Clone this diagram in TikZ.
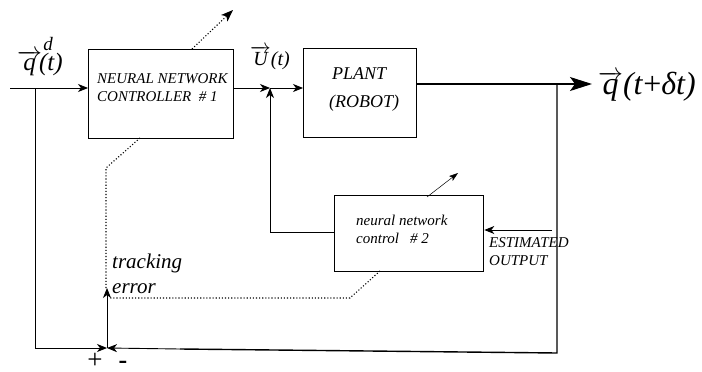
\documentclass[tikz,border=0pt]{standalone}
\usepackage{fontspec}
\setmainfont{Liberation Serif}
\usetikzlibrary{arrows.meta}
\tikzset{
  blk/.style={draw, line width=1.3pt, anchor=north west, inner sep=0pt},
  txt/.style={font=\itshape\fontsize{15}{18}\selectfont, align=left, inner sep=0pt},
  wire/.style={line width=0.9pt},
  arr/.style={wire, -{Stealth[length=10pt,width=8pt,inset=3pt]}},
  bigarr/.style={line width=1.3pt, -{Stealth[length=22pt,width=14pt,inset=5pt]}},
  dots/.style={line width=1.1pt, dotted},
}
\begin{document}
\begin{tikzpicture}[x=1pt,y=-1pt]
\useasboundingbox (0,0) rectangle (702,372);
% boxes
\node[blk, minimum width=145pt, minimum height=89pt] (b1) at (88,49) {};
\node[blk, minimum width=113pt, minimum height=89pt] (plant) at (303,48) {};
\node[blk, minimum width=149pt, minimum height=76pt] (b2) at (334,195) {};
% box texts
\node[txt, anchor=west] (b1t) at (97,88) {NEURAL NETWORK\\CONTROLLER \ \# \textit{1}};
\node[txt, font=\itshape\fontsize{18}{28}\selectfont, anchor=west] (pt) at (329,89) {\hspace{3pt}PLANT\\(ROBOT)};
\node[txt, anchor=west] (b2t) at (356,229) {neural network\\control \ \ \# 2};
% coordinates
\coordinate (in) at (10,88);
\coordinate (br) at (35,88);
\coordinate (j1) at (270,88);
\coordinate (po) at (416,84);
\coordinate (out) at (592,84);
\coordinate (fb) at (557,84);
\coordinate (fbc) at (557,353);
\coordinate (fbm) at (180,349);
\coordinate (sum) at (107,348);
\coordinate (bl) at (35,348);
\coordinate (te) at (107,288);
\coordinate (es) at (552,230);
\coordinate (j2) at (270,232);
% main path
\draw[arr] (in) -- (b1.west |- in);
\draw[wire] (br) -- (bl);
\draw[arr] (bl) -- (sum);
\draw[arr] (b1.east |- j1) -- (j1);
\draw[arr] (j1) -- (plant.west |- j1);
\draw[bigarr] (po) -- (out);
\draw[line width=1.4pt] (fb) -- (fbc) -- (fbm);
\draw[arr] (fbm) -- (sum);
\draw[arr] (sum) -- (te);
% second controller
\draw[arr] (es) -- (es -| b2.east);
\draw[wire] (b2.west |- j2) -- (j2);
\draw[arr] (j2) -- (j1);
% adaptation arrows
\coordinate (a1s) at (192,49);
\coordinate (a1e) at (233,10);
\draw[dots, -{Stealth[length=12pt,width=9pt,inset=3pt]}] (a1s) -- (a1e);
\coordinate (a2s) at (427,197);
\coordinate (a2e) at (458,173);
\draw[line width=0.5pt, -{Stealth[length=9pt,width=6pt,inset=2pt]}] (a2s) -- (a2e);
% tracking error dotted
\coordinate (d1) at (140,138);
\coordinate (d2) at (106,168);
\coordinate (d3) at (106,290);
\draw[dots] (d1) -- (d2) -- (d3);
\coordinate (d4) at (380,271);
\coordinate (d5) at (350,298);
\coordinate (d6) at (110,298);
\draw[dots] (d4) -- (d5) -- (d6);
% labels
\node[font=\itshape\fontsize{25}{25}\selectfont, inner sep=0pt, anchor=west] (qd) at (17,63) {$\overrightarrow{\mbox{\itshape q}}$\hspace{-3pt}(t)};
\node[font=\itshape\fontsize{19}{19}\selectfont, inner sep=0pt] (qdd) at (48,44) {d};
\node[font=\itshape\fontsize{20}{20}\selectfont, inner sep=0pt, anchor=west] (ut) at (250,58) {$\overrightarrow{\mbox{\itshape U}}$(t)};
\node[font=\fontsize{32}{32}\selectfont, inner sep=0pt, anchor=west] (qo) at (598,86) {$\overrightarrow{\mbox{\itshape q}}$\textit{(t}+\textit{δt)}};
\node[font=\itshape\fontsize{21}{25}\selectfont, inner sep=0pt, align=left, anchor=west] (tr) at (112,274) {tracking\\error};
\node[txt, anchor=west] (eo) at (489,252) {ESTIMATED\\OUTPUT};
\node[font=\fontsize{27}{27}\selectfont, inner sep=0pt] (plus) at (95,361) {+};
\node[font=\bfseries\fontsize{26}{26}\selectfont, inner sep=0pt] (minus) at (123,365) {-};
\end{tikzpicture}
\end{document}
